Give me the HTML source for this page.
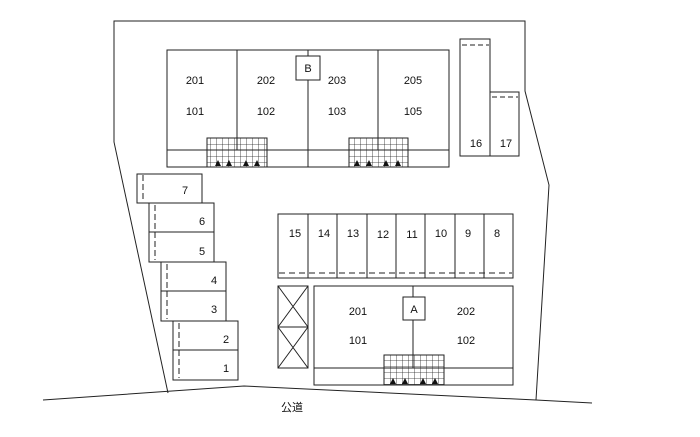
<!DOCTYPE html>
<html><head><meta charset="utf-8"><style>
html,body{margin:0;padding:0;background:#fff;}
svg{display:block;}
text{font-family:"Liberation Sans","Noto Sans CJK JP",sans-serif;font-size:11px;fill:#111;text-anchor:middle;}
</style></head><body>
<svg width="700" height="437" viewBox="0 0 700 437" xmlns="http://www.w3.org/2000/svg">
<defs>
<pattern id="g" x="0" y="0" width="6" height="6" patternUnits="userSpaceOnUse">
<path d="M0 0H6M0 0V6" stroke="#222" stroke-width="0.8" fill="none"/>
</pattern>
</defs>
<g fill="none" stroke="#222" stroke-width="1">
<!-- boundary -->
<polyline points="168,393 114,142 114,21 525,21 525,91 549,185 536,400"/>
<polyline points="43,400 244,386 536,400 592,403"/>

<!-- Building B -->
<rect x="167" y="50" width="282" height="117"/>
<line x1="167" y1="150" x2="449" y2="150"/>
<line x1="237" y1="50" x2="237" y2="150"/>
<line x1="378" y1="50" x2="378" y2="150"/>
<line x1="308" y1="50" x2="308" y2="167"/>
<rect x="296" y="56" width="24" height="24" fill="#fff"/>
<rect x="207" y="138" width="60" height="29" fill="url(#g)"/>
<rect x="349" y="138" width="59" height="29" fill="url(#g)"/>

<!-- 16,17 -->
<rect x="460" y="39" width="30" height="117"/>
<rect x="490" y="92" width="29" height="64"/>
<line x1="462" y1="45" x2="489" y2="45" stroke-dasharray="5,3"/>
<line x1="492" y1="97" x2="518" y2="97" stroke-dasharray="5,3"/>

<!-- left parking -->
<rect x="137" y="174" width="65" height="29"/>
<rect x="149" y="203" width="65" height="59"/><line x1="149" y1="232" x2="214" y2="232"/>
<rect x="161" y="262" width="65" height="59"/><line x1="161" y1="291" x2="226" y2="291"/>
<rect x="173" y="321" width="65" height="59"/><line x1="173" y1="350" x2="238" y2="350"/>
<g stroke-dasharray="6,3">
<line x1="143" y1="175" x2="143" y2="202"/>
<line x1="155" y1="205" x2="155" y2="260"/>
<line x1="167" y1="264" x2="167" y2="319"/>
<line x1="179" y1="323" x2="179" y2="378"/>
</g>

<!-- row 15-8 -->
<rect x="278" y="214" width="235" height="64"/>
<line x1="308" y1="214" x2="308" y2="278"/>
<line x1="337" y1="214" x2="337" y2="278"/>
<line x1="367" y1="214" x2="367" y2="278"/>
<line x1="396" y1="214" x2="396" y2="278"/>
<line x1="425" y1="214" x2="425" y2="278"/>
<line x1="455" y1="214" x2="455" y2="278"/>
<line x1="484" y1="214" x2="484" y2="278"/>
<line x1="279" y1="273" x2="512" y2="273" stroke-dasharray="6,4"/>

<!-- X boxes -->
<rect x="278" y="286" width="30" height="41"/><path d="M278 286L308 327M308 286L278 327"/>
<rect x="278" y="327" width="30" height="41"/><path d="M278 327L308 368M308 327L278 368"/>

<!-- Building A -->
<rect x="314" y="286" width="199" height="99"/>
<line x1="314" y1="368" x2="513" y2="368"/>
<line x1="413" y1="286" x2="413" y2="368"/>
<rect x="403" y="297" width="22" height="23" fill="#fff"/>
<rect x="384" y="355" width="60" height="30" fill="url(#g)"/>
</g>

<g fill="#111">
<path d="M215 166l3-6 3 6z M226 166l3-6 3 6z M243 166l3-6 3 6z M254 166l3-6 3 6z"/>
<path d="M354 166l3-6 3 6z M366 166l3-6 3 6z M383 166l3-6 3 6z M395 166l3-6 3 6z"/>
<path d="M390 384l3-6 3 6z M402 384l3-6 3 6z M420 384l3-6 3 6z M432 384l3-6 3 6z"/>
</g>

<text x="195" y="84">201</text><text x="195" y="115">101</text>
<text x="266" y="84">202</text><text x="266" y="115">102</text>
<text x="337" y="84">203</text><text x="337" y="115">103</text>
<text x="413" y="84">205</text><text x="413" y="115">105</text>
<text x="308" y="72">B</text>
<text x="476" y="147" font-size="9">16</text><text x="506" y="147" font-size="9">17</text>
<text x="185" y="194" font-size="9">7</text>
<text x="202" y="225" font-size="9">6</text><text x="202" y="255" font-size="9">5</text>
<text x="214" y="284" font-size="9">4</text><text x="214" y="313" font-size="9">3</text>
<text x="226" y="343" font-size="9">2</text><text x="226" y="372" font-size="9">1</text>
<text x="295" y="237" font-size="9">15</text><text x="324" y="237" font-size="9">14</text>
<text x="353" y="237" font-size="9">13</text><text x="383" y="238" font-size="9">12</text>
<text x="412" y="238" font-size="9">11</text><text x="441" y="237" font-size="9">10</text>
<text x="468" y="237" font-size="9">9</text><text x="497" y="237" font-size="9">8</text>
<text x="358" y="315">201</text><text x="358" y="344">101</text>
<text x="466" y="315">202</text><text x="466" y="344">102</text>
<text x="414" y="313">A</text>
<text x="292" y="411" font-size="10">公道</text>
</svg>
</body></html>
